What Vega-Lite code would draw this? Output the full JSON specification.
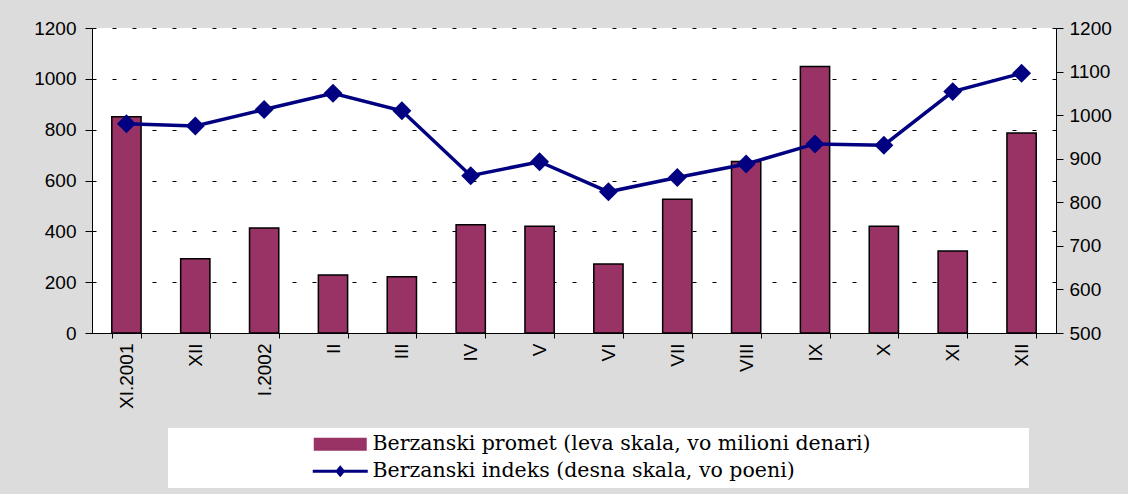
{
  "$schema": "https://vega.github.io/schema/vega-lite/v6.json",
  "width": 964,
  "height": 305,
  "autosize": {"type": "none"},
  "padding": {"left": 92, "top": 28, "right": 72, "bottom": 161},
  "background": "#dcdcdc",
  "config": {
    "view": {"fill": "white", "stroke": null},
    "font": "Liberation Sans",
    "axis": {"labelFont": "Liberation Sans", "labelFontSize": 19, "labelColor": "black", "tickColor": "black", "domainColor": "black", "tickWidth": 1, "domainWidth": 1},
    "legend": {
      "orient": "none",
      "legendX": 76,
      "legendY": 400,
      "direction": "vertical",
      "fillColor": "white",
      "strokeColor": null,
      "padding": 6,
      "rowPadding": 6,
      "symbolSize": 100,
      "symbolOffset": 156,
      "labelOffset": 22,
      "labelFont": "DejaVu Serif",
      "labelFontSize": 20.5,
      "labelColor": "black",
      "labelLimit": 2000,
      "titleOrient": "right",
      "titleFontSize": 1,
      "titlePadding": 152
    }
  },
  "data": {
    "values": [
      {"m": "XI.2001", "promet": 851, "indeks": 980},
      {"m": "XII.2001", "promet": 292, "indeks": 975},
      {"m": "I.2002", "promet": 413, "indeks": 1013},
      {"m": "II.2002", "promet": 228, "indeks": 1050},
      {"m": "III.2002", "promet": 221, "indeks": 1010},
      {"m": "IV.2002", "promet": 426, "indeks": 861},
      {"m": "V.2002", "promet": 420, "indeks": 893},
      {"m": "VI.2002", "promet": 271, "indeks": 824},
      {"m": "VII.2002", "promet": 526, "indeks": 857},
      {"m": "VIII.2002", "promet": 675, "indeks": 888},
      {"m": "IX.2002", "promet": 1049, "indeks": 934},
      {"m": "X.2002", "promet": 420, "indeks": 931},
      {"m": "XI.2002", "promet": 323, "indeks": 1054},
      {"m": "XII.2002", "promet": 787, "indeks": 1096}
    ]
  },
  "encoding": {
    "x": {
      "field": "m",
      "type": "ordinal",
      "sort": null,
      "scale": {"paddingInner": 0.575, "paddingOuter": 0.2875},
      "axis": {
        "title": null,
        "labelAngle": -90,
        "labelExpr": "datum.label == 'XI.2001' || datum.label == 'I.2002' ? datum.label : split(datum.label, '.')[0]",
        "tickBand": "extent",
        "tickSize": 5,
        "labelPadding": 5,
        "grid": false
      }
    }
  },
  "layer": [
    {
      "mark": {"type": "bar", "stroke": "black", "strokeWidth": 1.5},
      "encoding": {
        "y": {
          "field": "promet",
          "type": "quantitative",
          "scale": {"domain": [0, 1200], "nice": false},
          "axis": {
            "title": null,
            "orient": "left",
            "format": "d",
            "values": [0, 200, 400, 600, 800, 1000, 1200],
            "tickSize": 7,
            "labelPadding": 9,
            "grid": true,
            "gridDash": [4, 16],
            "gridColor": "black",
            "gridOpacity": 1,
            "gridWidth": 1
          }
        },
        "color": {
          "datum": "Berzanski promet (leva skala, vo milioni denari)",
          "type": "nominal",
          "scale": {
            "domain": ["Berzanski promet (leva skala, vo milioni denari)", "Berzanski indeks (desna skala, vo poeni)"],
            "range": ["#993366", "#000080"]
          },
          "legend": {
            "title": "\u00a0",
            "encode": {
              "symbols": {
                "update": {
                  "shape": {"signal": "datum.value === 'Berzanski promet (leva skala, vo milioni denari)' ? 'M-5.1,-1.1H5.1V1.1H-5.1Z' : 'M-5.5,-0.3H5.5V0.3H-5.5ZM0,-1.2L1,0L0,1.2L-1,0Z'"},
                  "fill": {"signal": "datum.value === 'Berzanski promet (leva skala, vo milioni denari)' ? '#993366' : '#000080'"},
                  "fillOpacity": {"value": 1},
                  "stroke": {"signal": "datum.value === 'Berzanski promet (leva skala, vo milioni denari)' ? '#000000' : '#000080'"},
                  "strokeOpacity": {"value": 1},
                  "strokeWidth": {"signal": "datum.value === 'Berzanski promet (leva skala, vo milioni denari)' ? 2 : 0"},
                  "opacity": {"value": 1}
                }
              }
            }
          }
        }
      }
    },
    {
      "mark": {
        "type": "line",
        "strokeWidth": 3.5,
        "point": {"shape": "diamond", "size": 360, "filled": true}
      },
      "encoding": {
        "y": {
          "field": "indeks",
          "type": "quantitative",
          "scale": {"domain": [500, 1200], "nice": false},
          "axis": {
            "title": null,
            "orient": "right",
            "format": "d",
            "values": [500, 600, 700, 800, 900, 1000, 1100, 1200],
            "tickSize": 7,
            "labelPadding": 6,
            "grid": false
          }
        },
        "color": {
          "datum": "Berzanski indeks (desna skala, vo poeni)",
          "type": "nominal",
          "legend": {
            "title": "\u00a0",
            "encode": {
              "symbols": {
                "update": {
                  "shape": {"signal": "datum.value === 'Berzanski promet (leva skala, vo milioni denari)' ? 'M-5.1,-1.1H5.1V1.1H-5.1Z' : 'M-5.5,-0.3H5.5V0.3H-5.5ZM0,-1.2L1,0L0,1.2L-1,0Z'"},
                  "fill": {"signal": "datum.value === 'Berzanski promet (leva skala, vo milioni denari)' ? '#993366' : '#000080'"},
                  "fillOpacity": {"value": 1},
                  "stroke": {"signal": "datum.value === 'Berzanski promet (leva skala, vo milioni denari)' ? '#000000' : '#000080'"},
                  "strokeOpacity": {"value": 1},
                  "strokeWidth": {"signal": "datum.value === 'Berzanski promet (leva skala, vo milioni denari)' ? 2 : 0"},
                  "opacity": {"value": 1}
                }
              }
            }
          }
        }
      }
    }
  ],
  "resolve": {"scale": {"y": "independent"}}
}
